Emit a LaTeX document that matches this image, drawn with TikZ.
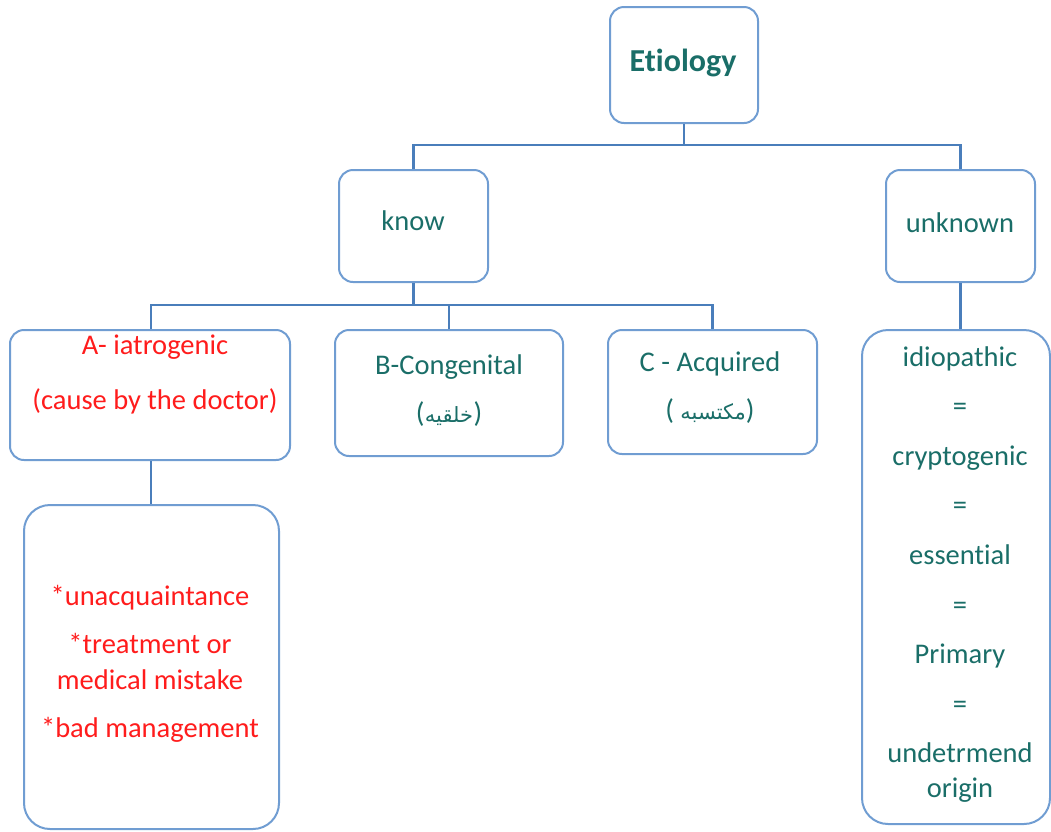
\documentclass[tikz,border=0pt]{standalone}
\usepackage{fontspec}
\setmainfont{Carlito}[RawFeature=-liga]
\newfontfamily\arabicfont[Script=Arabic]{DejaVu Sans}
\TeXXeTstate=1
\definecolor{tealtxt}{RGB}{26,110,104}
\definecolor{redtxt}{RGB}{255,28,28}
\definecolor{boxline}{RGB}{112,157,210}
\definecolor{conline}{RGB}{74,126,187}
\tikzset{
  box/.style={draw=boxline, line width=2pt, rounded corners=14pt, fill=white, inner sep=0pt},
  tallbox/.style={box, rounded corners=26pt},
  conn/.style={draw=conline, line width=2.4pt},
  txt/.style={inner sep=0pt, align=center, text=tealtxt, font=\fontsize{28.5}{48}\selectfont},
  redt/.style={txt, text=redtxt},
}
\begin{document}
\begin{tikzpicture}[x=1pt,y=-1pt]
\useasboundingbox (0,0) rectangle (1051,831);
% boxes
\node[box, minimum width=148pt, minimum height=116pt] (eti) at (684,65) {};
\node[box, minimum width=149pt, minimum height=112pt] (know) at (413.5,226) {};
\node[box, minimum width=149pt, minimum height=112pt] (unk) at (960.5,226) {};
\node[box, minimum width=280pt, minimum height=130pt] (A) at (150,395) {};
\node[box, minimum width=228pt, minimum height=126pt] (B) at (449,393) {};
\node[box, minimum width=209pt, minimum height=124pt] (C) at (712.5,392) {};
\node[tallbox, minimum width=188pt, minimum height=494pt] (U) at (956,577) {};
\node[tallbox, minimum width=255pt, minimum height=324pt] (Ad) at (151.5,667) {};
% connectors
\coordinate (j1) at (684,145);
\coordinate (j2) at (413.5,305);
\draw[conn] (eti.south) -- (j1);
\draw[conn] (know.north) |- (j1 -| know.north) -- (j1 -| unk.north) -- (unk.north);
\draw[conn] (know.south) -- (j2);
\draw[conn] (A.north -| 151,0) |- (j2 -| 151,0) -- (j2 -| C.north) -- (C.north);
\draw[conn] (j2 -| B.north) -- (B.north);
\draw[conn] (unk.south) -- (U.north -| unk.south);
\draw[conn] (A.south -| 151,0) -- (Ad.north -| 151,0);
% texts
\node[txt, font=\fontsize{32}{36}\selectfont\bfseries] (etit) at (683,63) {Etiology};
\node[txt] (knowt) at (413,221) {know};
\node[txt] (unkt) at (960,223) {unknown};
\node[redt, font=\fontsize{28.5}{55}\selectfont] (At) at (155,374.5) {A- iatrogenic\\(cause by the doctor)};
\node[txt] (Bt1) at (449,367) {B-Congenital};
\node[txt] (Bt2) at (449,414) {(\hspace{0.5pt}{\arabicfont\fontsize{21}{24}\selectfont\beginR خلقيه\endR}\hspace{0.5pt})};
\node[txt] (Ct1) at (710,364) {C - Acquired};
\node[txt] (Ct2) at (710,411) {( {\arabicfont\fontsize{21}{24}\selectfont\beginR مكتسبه\endR})};
\node[txt, font=\fontsize{28.5}{49.6}\selectfont] (Ut) at (960,574.5) {idiopathic\\=\\cryptogenic\\=\\essential\\=\\Primary\\=\\undetrmend\\[-14.6pt]origin};
\node[redt, font=\fontsize{28.5}{36}\selectfont] (Adt) at (150,664) {*unacquaintance\\[12pt]*treatment or\\medical mistake\\[12pt]*bad management};
\end{tikzpicture}
\end{document}
